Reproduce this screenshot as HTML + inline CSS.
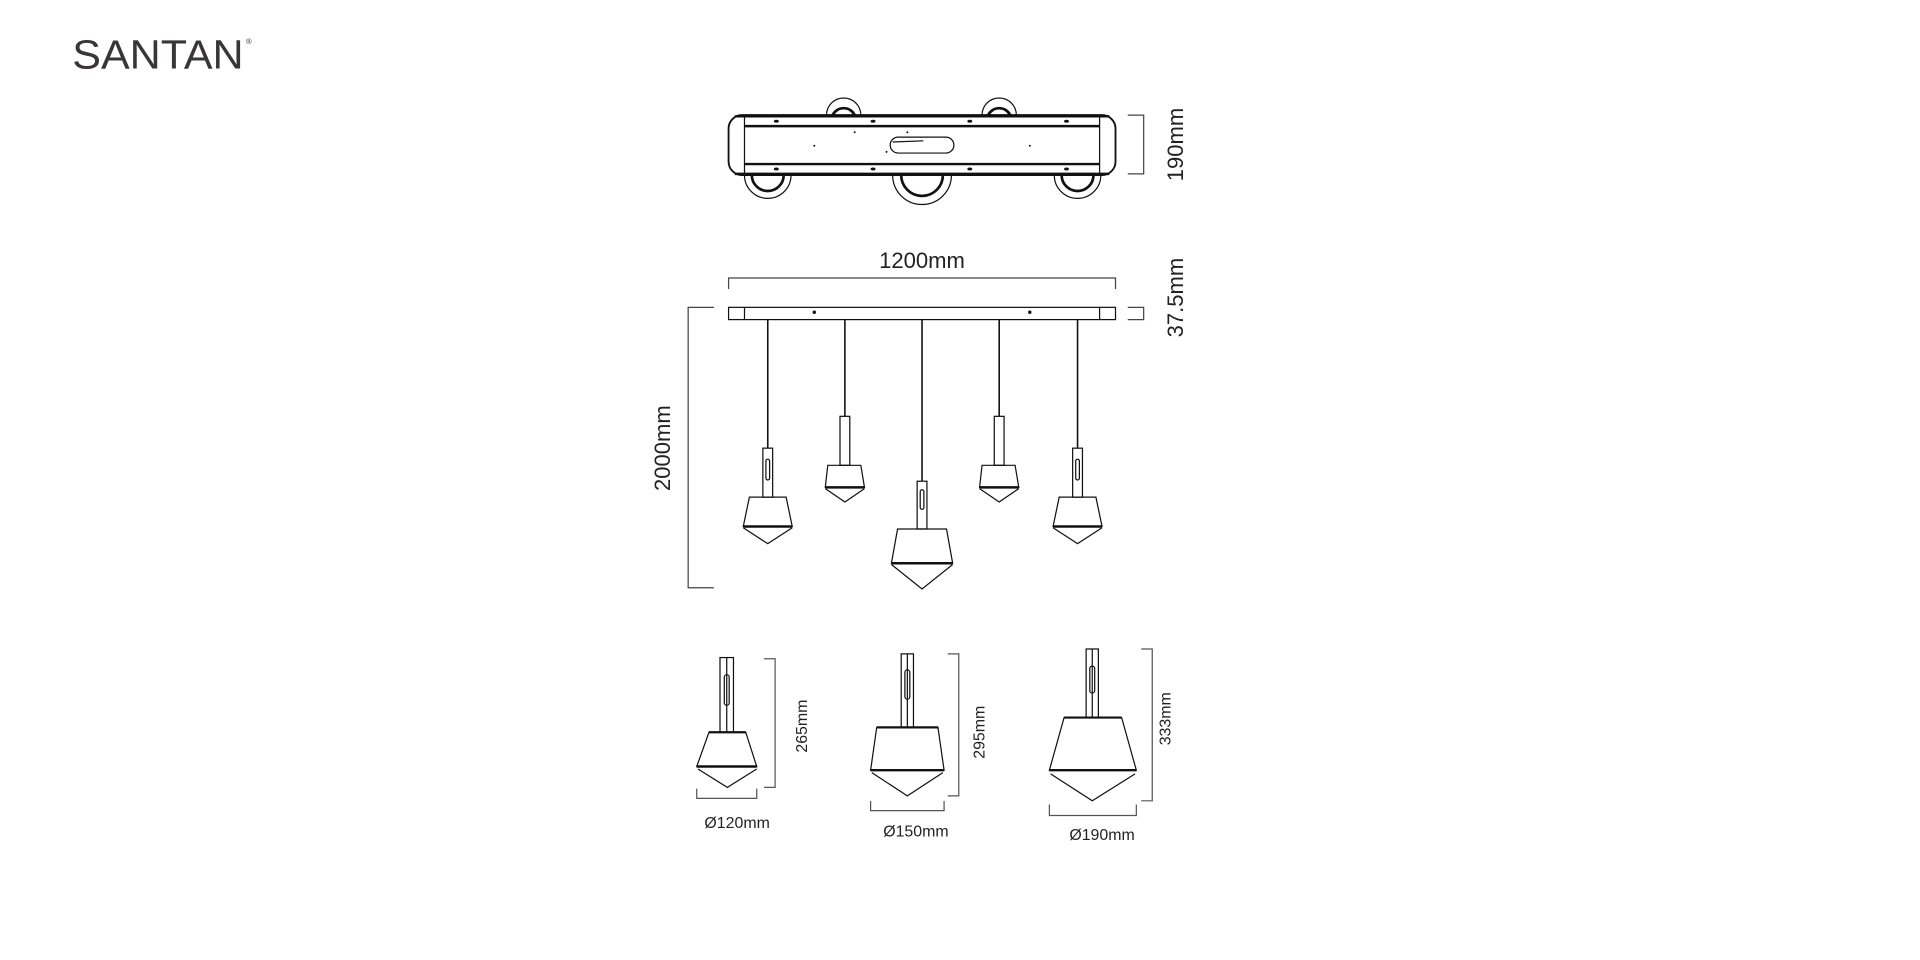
<!DOCTYPE html>
<html><head><meta charset="utf-8"><style>
html,body{margin:0;padding:0;background:#fff;width:1920px;height:960px;overflow:hidden}
svg{display:block}
text{font-family:"Liberation Sans",sans-serif;fill:#222}
</style></head><body>
<svg width="1920" height="960" viewBox="0 0 1568 784" xmlns="http://www.w3.org/2000/svg">
<!-- logo -->
<text x="59" y="56" font-size="33" textLength="140" lengthAdjust="spacingAndGlyphs" style="font-weight:300;fill:#3a3637">SANTAN</text>
<text x="201" y="36" font-size="6" fill="#231f20">®</text>

<!-- top view -->
<g fill="none" stroke="#111">
<circle cx="689" cy="94" r="14" stroke-width="1"/>
<circle cx="816" cy="94" r="14" stroke-width="1"/>
<path d="M680 94 A10 10 0 0 1 698 94 M807 94 A10 10 0 0 1 825 94" stroke-width="2.2"/>
<circle cx="627" cy="143" r="19" stroke-width="1"/>
<circle cx="753" cy="143" r="24" stroke-width="1"/>
<circle cx="880" cy="143" r="19" stroke-width="1"/>
<path d="M614 143 A13 13 0 0 0 640 143 M736 143 A17 17 0 0 0 770 143 M867 143 A13 13 0 0 0 893 143" stroke-width="2.2"/>
<rect x="595" y="94" width="316" height="49" rx="11" fill="#fff" stroke-width="1.5"/>
<line x1="608" y1="94" x2="608" y2="143" stroke-width="1"/>
<line x1="898" y1="94" x2="898" y2="143" stroke-width="1"/>
<line x1="600" y1="95" x2="906" y2="95" stroke-width="2"/>
<line x1="608" y1="103" x2="898" y2="103" stroke-width="2"/>
<line x1="608" y1="134" x2="898" y2="134" stroke-width="2"/>
<line x1="600" y1="142" x2="906" y2="142" stroke-width="2"/>
<rect x="727" y="112" width="52" height="13" rx="6.5" stroke-width="1"/>
<line x1="729" y1="116" x2="754" y2="115" stroke-width="1"/>
</g>
<g fill="#111">
<ellipse cx="634" cy="99" rx="2" ry="1.2"/><ellipse cx="713" cy="99" rx="2" ry="1.2"/><ellipse cx="792" cy="99" rx="2" ry="1.2"/><ellipse cx="871" cy="99" rx="2" ry="1.2"/>
<ellipse cx="634" cy="138" rx="2" ry="1.2"/><ellipse cx="713" cy="138" rx="2" ry="1.2"/><ellipse cx="792" cy="138" rx="2" ry="1.2"/><ellipse cx="871" cy="138" rx="2" ry="1.2"/>
<circle cx="665" cy="119" r="0.8"/><circle cx="841" cy="119" r="0.8"/><circle cx="698" cy="108" r="0.8"/><circle cx="741" cy="108" r="0.8"/><circle cx="724" cy="124" r="0.8"/>
</g>
<g fill="none" stroke="#444" stroke-width="1">
<path d="M921 94 H934 V142 H921"/>
<path d="M595 236 V227 H911 V236"/>
<path d="M921 251 H934 V261 H921"/>
<path d="M583 251 H562 V480 H583"/>
</g>
<text x="0" y="0" font-size="18" transform="translate(966,118) rotate(-90)" text-anchor="middle">190mm</text>
<text x="753" y="219" font-size="18" text-anchor="middle">1200mm</text>
<text x="0" y="0" font-size="18" transform="translate(966,243) rotate(-90)" text-anchor="middle">37.5mm</text>
<text x="0" y="0" font-size="18" transform="translate(547,366) rotate(-90)" text-anchor="middle">2000mm</text>

<!-- side view -->
<g fill="none" stroke="#111" stroke-width="1">
<rect x="595" y="251" width="316" height="10"/>
<line x1="608" y1="251" x2="608" y2="261"/><line x1="898" y1="251" x2="898" y2="261"/>
</g>
<circle cx="665" cy="255" r="1.4" fill="#111"/><circle cx="841" cy="255" r="1.4" fill="#111"/>
<g stroke="#111" stroke-width="1.3">
<line x1="627" y1="261" x2="627" y2="366"/><line x1="690" y1="261" x2="690" y2="340"/>
<line x1="753" y1="261" x2="753" y2="393"/><line x1="816" y1="261" x2="816" y2="340"/>
<line x1="880" y1="261" x2="880" y2="366"/>
</g>
<g fill="none" stroke="#111" stroke-width="1">
<g>
<rect x="623" y="366" width="8" height="40"/><rect x="625.5" y="375" width="3" height="17" rx="1.5"/>
<path d="M612 406 H642 L647 430 H607 Z"/><line x1="607" y1="430" x2="647" y2="430" stroke-width="2"/>
<path d="M607 431 L627 444 L647 431"/>
</g>
<g>
<rect x="876" y="366" width="8" height="40"/><rect x="878.5" y="375" width="3" height="17" rx="1.5"/>
<path d="M865 406 H895 L900 430 H860 Z"/><line x1="860" y1="430" x2="900" y2="430" stroke-width="2"/>
<path d="M860 431 L880 444 L900 431"/>
</g>
<g>
<rect x="686" y="340" width="8" height="40"/>
<path d="M676 380 H703 L706 398 H674 Z"/><line x1="674" y1="398" x2="706" y2="398" stroke-width="2"/>
<path d="M674 399 L690 410 L706 399"/>
</g>
<g>
<rect x="812" y="340" width="8" height="40"/>
<path d="M802 380 H829 L832 398 H800 Z"/><line x1="800" y1="398" x2="832" y2="398" stroke-width="2"/>
<path d="M800 399 L816 410 L832 399"/>
</g>
<g>
<rect x="749" y="393" width="8" height="39"/><rect x="751.5" y="400" width="3" height="16" rx="1.5"/>
<path d="M733 432 H773 L778 460 H728 Z"/><line x1="728" y1="460" x2="778" y2="460" stroke-width="2"/>
<path d="M728 461 L753 481 L778 461"/>
</g>

<!-- detail pendants -->
<g>
<rect x="588" y="537" width="11" height="61"/><line x1="593.5" y1="537" x2="593.5" y2="598"/><rect x="591.5" y="551" width="4" height="25" rx="2"/>
<path d="M579 598 H609 L618 626 H569 Z"/><line x1="579" y1="598" x2="609" y2="598" stroke-width="1.8"/><line x1="569" y1="626" x2="618" y2="626" stroke-width="2"/>
<path d="M570 628 L594 643 L618 628"/>
</g>
<g>
<rect x="736" y="534" width="10" height="60"/><line x1="741" y1="534" x2="741" y2="594"/><rect x="739" y="547" width="4" height="24" rx="2"/>
<path d="M716 594 H766 L771 629 H711 Z"/><line x1="716" y1="594" x2="766" y2="594" stroke-width="1.8"/><line x1="711" y1="629" x2="771" y2="629" stroke-width="2"/>
<path d="M712 631 L741 650 L770 631"/>
</g>
<g>
<rect x="887" y="530" width="10" height="56"/><line x1="892" y1="530" x2="892" y2="586"/><rect x="890" y="544" width="4" height="22" rx="2"/>
<path d="M869 586 H916 L928 629 H857 Z"/><line x1="869" y1="586" x2="916" y2="586" stroke-width="1.8"/><line x1="857" y1="629" x2="928" y2="629" stroke-width="2"/>
<path d="M858 632 L892 654 L927 632"/>
</g>
</g>
<g fill="none" stroke="#555" stroke-width="1">
<path d="M624 538 H633 V643 H624"/>
<path d="M774 534 H783 V650 H774"/>
<path d="M932 530 H941 V654 H932"/>
<path d="M569 644 V652 H618 V644"/>
<path d="M711 654 V662 H771 V654"/>
<path d="M857 657 V666 H928 V657"/>
</g>
<text x="0" y="0" font-size="13" transform="translate(659,593) rotate(-90)" text-anchor="middle">265mm</text>
<text x="0" y="0" font-size="13" transform="translate(804,598) rotate(-90)" text-anchor="middle">295mm</text>
<text x="0" y="0" font-size="13" transform="translate(956,587) rotate(-90)" text-anchor="middle">333mm</text>
<text x="602" y="676" font-size="13" text-anchor="middle">Ø120mm</text>
<text x="748" y="683" font-size="13" text-anchor="middle">Ø150mm</text>
<text x="900" y="686" font-size="13" text-anchor="middle">Ø190mm</text>
</svg>
</body></html>
